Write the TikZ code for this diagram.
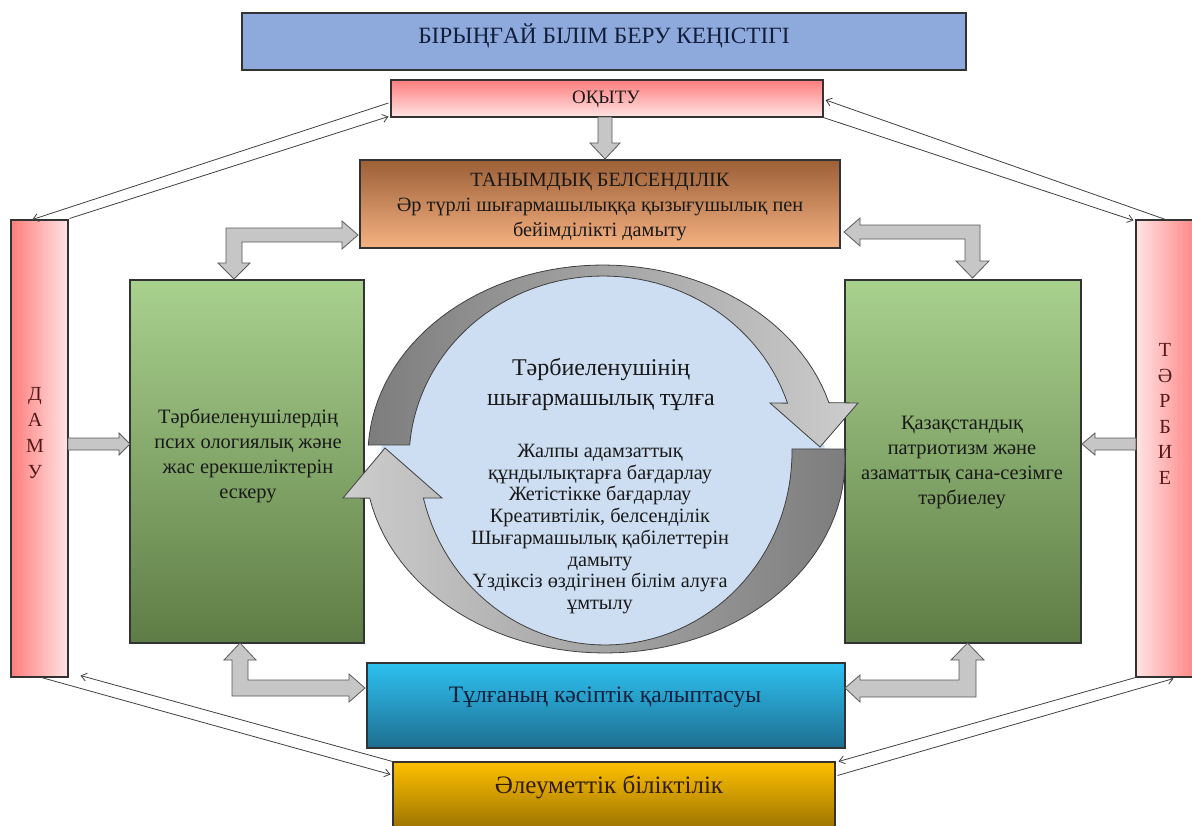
\documentclass[tikz,border=0pt]{standalone}
\usepackage{fontspec}
\setmainfont{Liberation Serif}
\usetikzlibrary{fit,calc,arrows.meta,shapes.geometric}
\definecolor{titleblue}{RGB}{142,169,219}
\definecolor{pinkA}{RGB}{255,125,125}
\definecolor{pinkB}{RGB}{255,228,228}
\definecolor{brownA}{RGB}{156,95,55}
\definecolor{brownB}{RGB}{245,178,130}
\definecolor{greenA}{RGB}{169,209,142}
\definecolor{greenB}{RGB}{94,125,70}
\definecolor{cyanA}{RGB}{45,193,240}
\definecolor{cyanB}{RGB}{30,110,145}
\definecolor{goldA}{RGB}{255,192,0}
\definecolor{goldB}{RGB}{150,112,0}
\definecolor{discblue}{RGB}{205,222,242}
\definecolor{grayD}{RGB}{125,125,125}
\definecolor{grayL}{RGB}{205,205,205}
\definecolor{blkgray}{RGB}{198,198,198}
\definecolor{letterred}{RGB}{85,25,25}
\definecolor{txt}{RGB}{25,25,25}
\definecolor{navytxt}{RGB}{18,30,60}
\definecolor{browntxt}{RGB}{50,28,5}
\begin{document}
\begin{tikzpicture}[x=0.75pt,y=-0.75pt,
  box/.style={draw=black!80, line width=0.8pt, inner sep=0pt},
  lbl/.style={text=txt, align=center, inner sep=0pt},
  blk/.style={fill=blkgray, draw=black!65, line width=0.6pt},
  conn/.style={draw=black!75, line width=0.6pt, -{Straight Barb[length=4pt,width=6pt]}},
  circarrow/.style={draw=black!75, line width=0.6pt}]
\useasboundingbox (0,0) rectangle (1192,825);

% boxes
\node[box, fill=titleblue, fit={(242,13)(966,70)}] (title) {};
\node[box, top color=pinkA, bottom color=pinkB, fit={(391,80)(823,117)}] (oqytu) {};
\node[box, top color=brownA, bottom color=brownB, fit={(360,160)(840,248)}] (tanym) {};
\node[box, top color=greenA, bottom color=greenB, fit={(130,280)(364,643)}] (lgreen) {};
\node[box, top color=greenA, bottom color=greenB, fit={(845,280)(1081,643)}] (rgreen) {};
\node[box, left color=pinkA, right color=pinkB, fit={(11,220)(68,677)}] (damu) {};
\node[box, left color=pinkB, right color=pinkA, fit={(1136,220)(1200,677)}] (tarbie) {};
\node[box, top color=cyanA, bottom color=cyanB, fit={(367,663)(845,748)}] (kasip) {};
\node[box, top color=goldA, bottom color=goldB, fit={(393,762)(835,832)}] (aleum) {};

% texts
\node[lbl, text=navytxt, font=\fontsize{17.5}{20}\selectfont] (titletext) at (604,36) {БІРЫҢҒАЙ БІЛІМ БЕРУ КЕҢІСТІГІ};
\node[lbl, font=\fontsize{14.2}{16}\selectfont] (oqytutext) at (606,99) {ОҚЫТУ};
\node[lbl, font=\fontsize{15.2}{19}\selectfont] (tanymtext) at (600,207) {ТАНЫМДЫҚ БЕЛСЕНДІЛІК\\Әр түрлі шығармашылыққа қызығушылық пен\\бейімділікті дамыту};
\node[lbl, font=\fontsize{15.3}{18.75}\selectfont] (lgtext) at (248,456) {Тәрбиеленушілердің\\псих ологиялық және\\жас ерекшеліктерін\\ескеру};
\node[lbl, font=\fontsize{15.3}{18.75}\selectfont] (rgtext) at (962,463) {Қазақстандық\\патриотизм және\\азаматтық сана-сезімге\\тәрбиелеу};
\node[lbl, text=letterred, font=\fontsize{15}{19.3}\selectfont] (damutext) at (35,433) {Д\\А\\М\\У};
\node[lbl, text=letterred, font=\fontsize{15}{19.2}\selectfont] (tarbietext) at (1165,414) {Т\\Ә\\Р\\Б\\И\\Е};
\node[lbl, text=navytxt, font=\fontsize{17.7}{20}\selectfont] (kasiptext) at (605,697) {Тұлғаның кәсіптік қалыптасуы};
\node[lbl, text=browntxt, font=\fontsize{18.8}{21}\selectfont] (aleumtext) at (609,787) {Әлеуметтік біліктілік};

% central disc
\node[ellipse, fill=discblue, inner sep=0pt, minimum width=333pt, minimum height=285pt] (disc) at (603,460) {};

% circular arrows
\path[circarrow, left color=grayD, right color=grayL]
  (368,445) -- plot[domain=183:344,samples=60] ({603+235*cos(\x)},{455+190*sin(\x)})
  -- (858,403) -- (820,447) -- (770,403)
  -- plot[domain=342:184.7,samples=60] ({603+194*cos(\x)},{460+184*sin(\x)}) -- cycle;
\path[circarrow, left color=grayL, right color=grayD]
  (845,449) -- plot[domain=-3.3:168.6,samples=60] ({605+240*cos(\x)},{460+193*sin(\x)})
  -- (343,498) -- (385,448) -- (442,498)
  -- plot[domain=166.2:-0.9,samples=60] ({605+187*cos(\x)},{452+193*sin(\x)}) -- cycle;

\node[lbl, font=\fontsize{18}{22.5}\selectfont] (disctitle) at (601,384) {Тәрбиеленушінің\\шығармашылық тұлға};
\node[lbl, font=\fontsize{15.2}{16.3}\selectfont] (disclist) at (600,529) {Жалпы адамзаттық\\құндылықтарға бағдарлау\\Жетістікке бағдарлау\\Креативтілік, белсенділік\\Шығармашылық қабілеттерін\\дамыту\\Үздіксіз өздігінен білім алуға\\ұмтылу};

% block arrows
\draw[blk] (598,117) -- (612,117) -- (612,143) -- (620,143) -- (605,159) -- (590,143) -- (598,143) -- cycle;
\draw[blk] (226,228) -- (342,228) -- (342,221) -- (358,235) -- (342,249) -- (342,242) -- (242,242) -- (242,263) -- (250,263) -- (234,279) -- (218,263) -- (226,263) -- cycle;
\draw[blk] (980,225) -- (860,225) -- (860,218) -- (844,232) -- (860,246) -- (860,239) -- (965,239) -- (965,261) -- (956,261) -- (972.5,278) -- (989,261) -- (980,261) -- cycle;
\draw[blk] (240,643) -- (256,660) -- (248,660) -- (248,680) -- (349,680) -- (349,674) -- (365,688) -- (349,702) -- (349,696) -- (232,696) -- (232,660) -- (224,660) -- cycle;
\draw[blk] (845,688) -- (860,675) -- (860,680) -- (959,680) -- (959,660) -- (951,660) -- (967.5,643) -- (984,660) -- (976,660) -- (976,697) -- (860,697) -- (860,702) -- cycle;
\draw[blk] (68,438) -- (119,438) -- (119,433) -- (130,444) -- (119,455) -- (119,450) -- (68,450) -- cycle;
\draw[blk] (1136,438) -- (1095,438) -- (1095,433) -- (1082,444) -- (1095,455) -- (1095,450) -- (1136,450) -- cycle;

% thin connectors
\draw[conn] ($(oqytu.west)+(-2,4.5)$) -- ($(damu.north west)+(22,0)$);
\draw[conn] ($(damu.north east)+(1,-1)$) -- ($(oqytu.south west)+(-2,-1)$);
\draw[conn] ($(tarbie.north west)+(30,0)$) -- ($(oqytu.east)+(2,1.5)$);
\draw[conn] (oqytu.south east) -- ($(tarbie.north west)+(-2,1)$);
\draw[conn] ($(damu.south west)+(31,0)$) -- ($(aleum.north west)+(-2,13)$);
\draw[conn] (aleum.north west) -- ($(damu.south east)+(12,-2)$);
\draw[conn] (tarbie.south west) -- ($(aleum.north east)+(3,0)$);
\draw[conn] ($(aleum.north east)+(2,14)$) -- ($(tarbie.south west)+(38,1)$);
\end{tikzpicture}
\end{document}
